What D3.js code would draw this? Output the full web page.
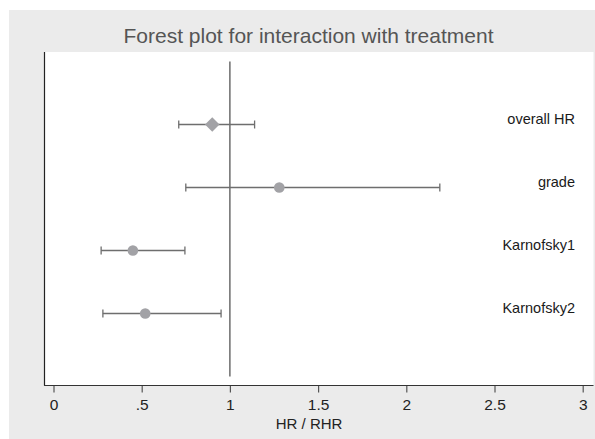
<!DOCTYPE html>
<html>
<head>
<meta charset="utf-8">
<script src="https://cdn.jsdelivr.net/npm/d3@7"></script>
<style>
  body { margin: 0; background: #fff; }
  text { font-family: "Liberation Sans", Arial, Helvetica, sans-serif; }
</style>
</head>
<body>
<div id="chart"></div>
<script>
// rows of the forest plot, top to bottom
var labels = ["overall HR", "grade", "Karnofsky1", "Karnofsky2"];
var rowPos = [4, 3, 2, 1];
var hr     = [0.90, 1.28, 0.45, 0.52];
var ciLow  = [0.71, 0.75, 0.27, 0.28];
var ciHigh = [1.14, 2.19, 0.745, 0.95];
var markers = ["diamond", "circle", "circle", "circle"];

// x axis ticks
var tickValues = [0, 0.5, 1, 1.5, 2, 2.5, 3];
var tickLabels = ["0", ".5", "1", "1.5", "2", "2.5", "3"];
var refValue = 1;

var width = 595, height = 439;

var svg = d3.select("#chart")
  .append("svg")
    .attr("width", width)
    .attr("height", height);

// outer grey panel
svg.append("rect")
  .attr("x", 9).attr("y", 10)
  .attr("width", width - 9).attr("height", height - 10)
  .attr("fill", "#ebebeb");

// plot region
var plot = { left: 44, top: 52, right: 593.5, bottom: 385.5 };
svg.append("rect")
  .attr("x", plot.left).attr("y", plot.top)
  .attr("width", plot.right - plot.left)
  .attr("height", plot.bottom - plot.top)
  .attr("fill", "#fff");

var x = d3.scaleLinear().domain([0, 3]).range([53.5, 582.7]);
var y = d3.scaleLinear().domain([0, 5]).range([376.5, 61.5]);

// title
svg.append("text")
  .attr("x", 308.5).attr("y", 43)
  .attr("text-anchor", "middle")
  .attr("font-size", "21px")
  .attr("fill", "#555")
  .text("Forest plot for interaction with treatment");

// left axis line (no labels)
svg.append("line")
  .attr("x1", plot.left + 0.5).attr("x2", plot.left + 0.5)
  .attr("y1", plot.top).attr("y2", plot.bottom)
  .attr("stroke", "#222").attr("stroke-width", 1.2);

// bottom axis
var xAxis = d3.axisBottom(x)
  .tickValues(tickValues)
  .tickFormat(function(d, i) { return tickLabels[i]; })
  .tickSizeOuter(0)
  .tickSize(7);

var gx = svg.append("g")
  .attr("transform", "translate(0," + plot.bottom + ")")
  .call(xAxis);
gx.select(".domain").remove();
gx.selectAll(".tick line").attr("stroke", "#555").attr("stroke-width", 1.2);
gx.selectAll(".tick text")
  .attr("y", 24).attr("dy", 0)
  .attr("font-size", "15.5px")
  .attr("font-family", "Liberation Sans, Arial, sans-serif")
  .attr("fill", "#222");

svg.append("line")
  .attr("x1", plot.left).attr("x2", plot.right)
  .attr("y1", plot.bottom).attr("y2", plot.bottom)
  .attr("stroke", "#333").attr("stroke-width", 1.2);

// axis title
svg.append("text")
  .attr("x", x(1.5) - 9).attr("y", 428.5)
  .attr("text-anchor", "middle")
  .attr("font-size", "15px")
  .attr("fill", "#222")
  .text("HR / RHR");

// reference line
svg.append("line")
  .attr("x1", x(refValue)).attr("x2", x(refValue))
  .attr("y1", y(0)).attr("y2", y(5))
  .attr("stroke", "#555").attr("stroke-width", 1.3);

var rows = labels.map(function(d, i) {
  return { label: d, pos: rowPos[i], hr: hr[i], lo: ciLow[i], hi: ciHigh[i], marker: markers[i] };
});

var g = svg.append("g").attr("class", "rows");

// confidence intervals
g.selectAll(".ci")
  .data(rows)
  .enter().append("line")
    .attr("class", "ci")
    .attr("x1", function(d) { return x(d.lo); })
    .attr("x2", function(d) { return x(d.hi); })
    .attr("y1", function(d) { return y(d.pos); })
    .attr("y2", function(d) { return y(d.pos); })
    .attr("stroke", "#6e6e6e").attr("stroke-width", 1.3);

// caps
["lo", "hi"].forEach(function(k) {
  g.selectAll(".cap-" + k)
    .data(rows)
    .enter().append("line")
      .attr("class", "cap-" + k)
      .attr("x1", function(d) { return x(d[k]); })
      .attr("x2", function(d) { return x(d[k]); })
      .attr("y1", function(d) { return y(d.pos) - 4; })
      .attr("y2", function(d) { return y(d.pos) + 4; })
      .attr("stroke", "#6e6e6e").attr("stroke-width", 1.3);
});

// point estimates
var diamond = d3.symbol().type(d3.symbolDiamond2).size(135);
g.selectAll(".pt")
  .data(rows)
  .enter().append("path")
    .attr("class", "pt")
    .attr("transform", function(d) { return "translate(" + x(d.hr) + "," + y(d.pos) + ")"; })
    .attr("d", function(d) {
      if (d.marker == "diamond") return diamond();
      return d3.symbol().type(d3.symbolCircle).size(Math.PI * 5.3 * 5.3)();
    })
    .attr("fill", "#a2a2a6");

// row labels
g.selectAll(".lbl")
  .data(rows)
  .enter().append("text")
    .attr("class", "lbl")
    .attr("x", 575)
    .attr("y", function(d) { return y(d.pos) - 1; })
    .attr("text-anchor", "end")
    .attr("font-size", "14.5px")
    .attr("fill", "#1a1a1a")
    .text(function(d) { return d.label; });
</script>
</body>
</html>
